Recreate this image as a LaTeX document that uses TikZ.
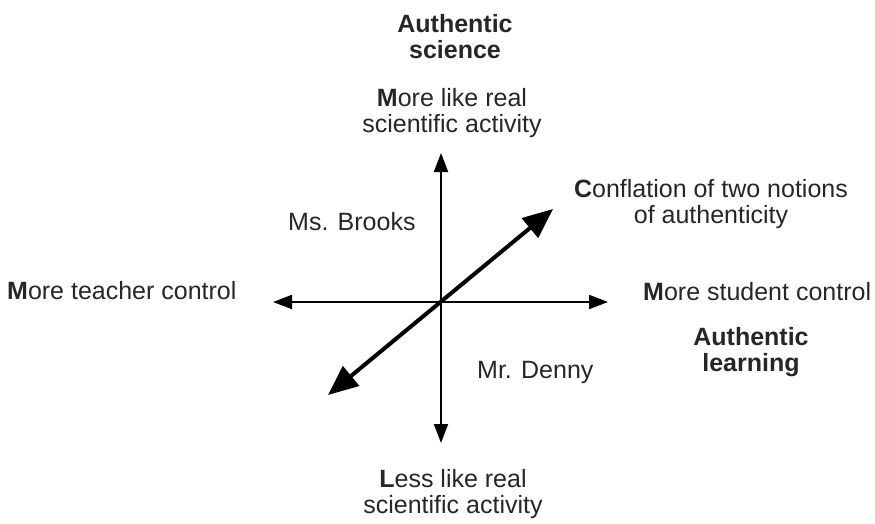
\documentclass[tikz,border=0pt]{standalone}
\usepackage{fontspec}
\setmainfont{Liberation Sans}
\usetikzlibrary{arrows.meta}
\begin{document}
\begin{tikzpicture}[x=1pt,y=-1pt,
  lbl/.style={inner sep=0pt,font=\fontsize{25}{26}\selectfont,text=black!85},
  blbl/.style={lbl,font=\fontsize{25}{26}\selectfont\bfseries},
  axis/.style={line width=2pt,{Triangle[length=19pt,width=14pt]}-{Triangle[length=19pt,width=14pt]}},
  diag/.style={line width=4pt,{Triangle[length=30pt,width=25pt]}-{Triangle[length=30pt,width=25pt]}}]
\useasboundingbox (0,0) rectangle (875,524);
% axis end points
\coordinate (top) at (441,153);
\coordinate (bot) at (441,443);
\coordinate (left) at (273,302);
\coordinate (right) at (608,302);
\coordinate (ur) at (553,209);
\coordinate (ll) at (328,395);
\draw[axis] (bot) -- (top);
\draw[axis] (left) -- (right);
\draw[diag] (ll) -- (ur);
% labels
\node[blbl,align=center,anchor=north] (sci) at (455,14) {Authentic\\science};
\node[lbl,align=center,anchor=north] (morereal) at (452,88) {\textbf{M}ore like real\\scientific activity};
\node[lbl,align=center,anchor=north] (lessreal) at (453,469) {\textbf{L}ess like real\\scientific activity};
\node[lbl,anchor=base west] (teacher) at (7,299) {\textbf{M}ore teacher control};
\node[lbl,anchor=base west] (student) at (643,300) {\textbf{M}ore student control};
\node[blbl,align=center,anchor=north] (learn) at (751,327) {Authentic\\learning};
\node[lbl,align=center,anchor=north] (confl) at (711,179) {\textbf{C}onflation of two notions\\of authenticity};
\node[lbl,anchor=base west] (brooks) at (288,230) {Ms. Brooks};
\node[lbl,anchor=base west] (denny) at (477,378) {Mr. Denny};
\end{tikzpicture}
\end{document}
